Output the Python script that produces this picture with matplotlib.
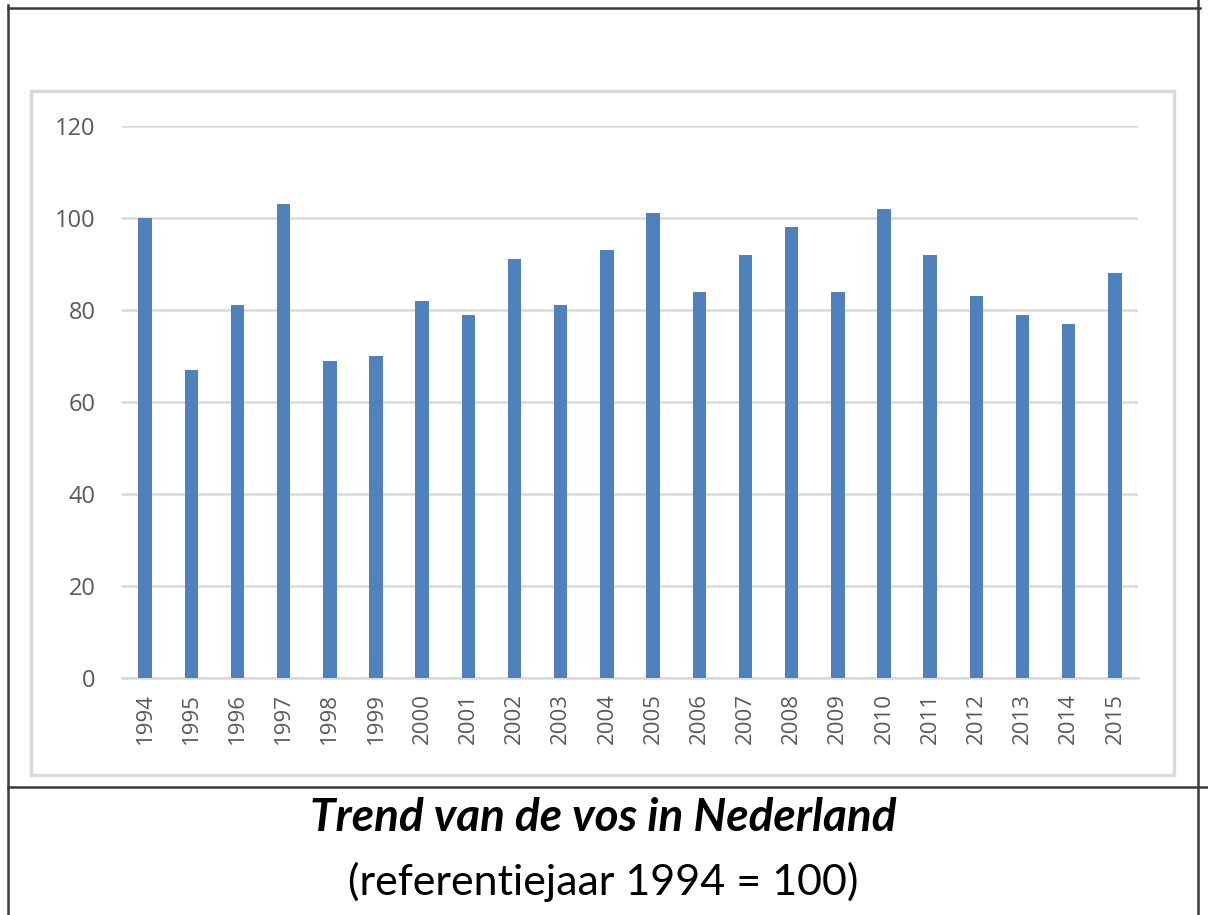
import matplotlib
matplotlib.use("Agg")
import matplotlib.pyplot as plt
from matplotlib.lines import Line2D
from matplotlib.patches import Rectangle

years = ["1994", "1995", "1996", "1997", "1998", "1999", "2000", "2001", "2002", "2003", "2004",
         "2005", "2006", "2007", "2008", "2009", "2010", "2011", "2012", "2013", "2014", "2015"]
values = [100, 67, 81, 103, 69, 70, 82, 79, 91, 81, 93,
          101, 84, 92, 98, 84, 102, 92, 83, 79, 77, 88]
yticks = [0, 20, 40, 60, 80, 100, 120]
title = "Trend van de vos in Nederland"
subtitle = "(referentiejaar 1994 = 100)"

W, H = 1208, 915
fig = plt.figure(figsize=(W / 100, H / 100), dpi=100)
fig.patch.set_facecolor("white")

def fx(x):
    return x / W

def fy(y):
    return 1 - y / H

# table-like outer lines
line_c = "#3a3a3a"
fig.add_artist(Line2D([fx(8), fx(1200)], [fy(8), fy(8)], color=line_c, lw=1.8))
fig.add_artist(Line2D([fx(8), fx(8)], [fy(5), fy(915)], color=line_c, lw=1.8))
fig.add_artist(Line2D([fx(1198), fx(1198)], [fy(0), fy(915)], color=line_c, lw=1.8))
fig.add_artist(Line2D([fx(8), fx(1208)], [fy(787), fy(787)], color=line_c, lw=1.8))

# chart area box
fig.add_artist(Rectangle((fx(31), fy(775)), fx(1174) - fx(31), fy(91) - fy(775),
                         fill=False, edgecolor="#d9d9d9", lw=2.5))

ax = fig.add_axes([fx(122), fy(678), fx(1138) - fx(122), fy(126) - fy(678)])
x = list(range(len(years)))
ax.bar(x, values, width=0.29, color="#4f81bd", zorder=3)
ax.set_xlim(-0.5, len(years) - 0.5)
ax.set_ylim(0, 120)
ax.set_yticks(yticks)
ax.set_yticklabels([str(v) for v in yticks], color="#595959", fontsize=17, family="Open Sans")
ax.set_xticks(x)
ax.set_xticklabels(years, rotation=90, color="#595959", fontsize=16, family="Open Sans")
ax.tick_params(axis="both", length=0)
ax.tick_params(axis="y", pad=19)
ax.tick_params(axis="x", pad=11)
ax.grid(axis="y", color="#d9d9d9", lw=1.8, zorder=0)
for s in ["top", "right", "left"]:
    ax.spines[s].set_visible(False)
ax.spines["bottom"].set_color("#d9d9d9")
ax.spines["bottom"].set_linewidth(1.8)
ax.set_facecolor("none")

fig.text(fx(603), fy(818), title, ha="center", va="center", fontsize=33,
         fontweight="bold", fontstyle="italic", family="Lato", color="black")
fig.text(fx(603), fy(882), subtitle, ha="center", va="center", fontsize=31,
         family="Lato", color="black")

fig.savefig("out.png", dpi=100, facecolor="white")
